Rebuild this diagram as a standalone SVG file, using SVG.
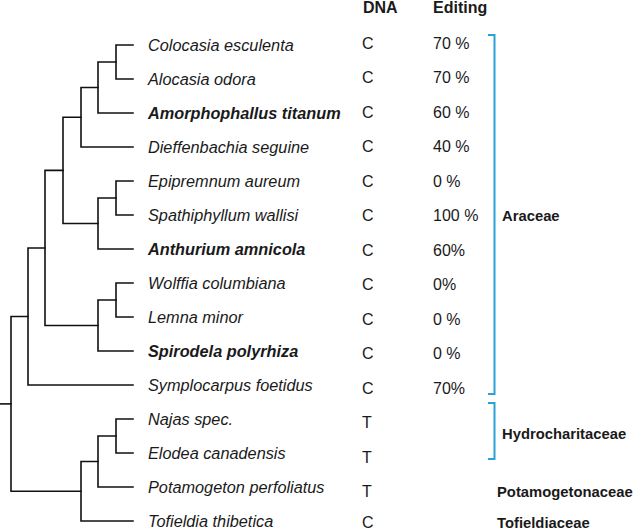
<svg xmlns="http://www.w3.org/2000/svg" width="633" height="532" viewBox="0 0 633 532">
<style>
  .sp { font-family: "Liberation Sans", Arial, sans-serif; font-size: 16.3px; font-style: italic; fill: #1a1a1a; }
  .spb { font-weight: bold; }
  .col { font-family: "Liberation Sans", Arial, sans-serif; font-size: 16px; fill: #1a1a1a; }
  .hdr { font-family: "Liberation Sans", Arial, sans-serif; font-size: 16px; font-weight: bold; fill: #1a1a1a; }
  .fam { font-family: "Liberation Sans", Arial, sans-serif; font-size: 14.8px; font-weight: bold; fill: #1a1a1a; }
  .tree { fill: none; stroke: #111; stroke-width: 1.6; stroke-linecap: square; stroke-linejoin: miter; }
  .br { fill: none; stroke: #2a9fd8; stroke-width: 2; }
</style>
<rect width="633" height="532" fill="#fff"/>

<g id="connectors">
  <path class="tree" d="M133 45 H116 V79 H133"/>
  <path class="tree" d="M116 62 H98 V113 H133"/>
  <path class="tree" d="M98 87.5 H81 V147 H133"/>
  <path class="tree" d="M133 181 H116 V215 H133"/>
  <path class="tree" d="M116 198 H98 V249 H133"/>
  <path class="tree" d="M81 117.2 H63 V223.5 H98"/>
  <path class="tree" d="M133 283 H116 V317 H133"/>
  <path class="tree" d="M116 300 H98 V351 H133"/>
  <path class="tree" d="M63 170.4 H45 V325.5 H98"/>
  <path class="tree" d="M45 248 H28 V385 H133"/>
  <path class="tree" d="M133 419 H116 V453 H133"/>
  <path class="tree" d="M116 436 H98 V487 H133"/>
  <path class="tree" d="M98 461.5 H81 V521 H133"/>
  <path class="tree" d="M28 316.5 H11 V491.2 H81"/>
  <path class="tree" d="M0 403.9 H11"/>
</g>

<g id="header">
  <text class="hdr" x="363" y="13">DNA</text>
  <text class="hdr" x="433" y="13">Editing</text>
</g>

<g id="t0"><text class="sp" x="148" y="51">Colocasia esculenta</text><text class="col" x="362" y="48.5">C</text><text class="col" x="433" y="48.5">70 %</text></g>
<g id="t1"><text class="sp" x="148" y="85">Alocasia odora</text><text class="col" x="362" y="83">C</text><text class="col" x="433" y="83">70 %</text></g>
<g id="t2"><text class="sp spb" x="148" y="119">Amorphophallus titanum</text><text class="col" x="362" y="117.5">C</text><text class="col" x="433" y="117.5">60 %</text></g>
<g id="t3"><text class="sp" x="148" y="153">Dieffenbachia seguine</text><text class="col" x="362" y="152">C</text><text class="col" x="433" y="152">40 %</text></g>
<g id="t4"><text class="sp" x="148" y="187">Epipremnum aureum</text><text class="col" x="362" y="186.5">C</text><text class="col" x="433" y="186.5">0 %</text></g>
<g id="t5"><text class="sp" x="148" y="221">Spathiphyllum wallisi</text><text class="col" x="362" y="221">C</text><text class="col" x="433" y="221">100 %</text></g>
<g id="t6"><text class="sp spb" x="148" y="255">Anthurium amnicola</text><text class="col" x="362" y="255.5">C</text><text class="col" x="433" y="255.5">60%</text></g>
<g id="t7"><text class="sp" x="148" y="289">Wolffia columbiana</text><text class="col" x="362" y="290">C</text><text class="col" x="433" y="290">0%</text></g>
<g id="t8"><text class="sp" x="148" y="323">Lemna minor</text><text class="col" x="362" y="324.5">C</text><text class="col" x="433" y="324.5">0 %</text></g>
<g id="t9"><text class="sp spb" x="148" y="357">Spirodela polyrhiza</text><text class="col" x="362" y="359">C</text><text class="col" x="433" y="359">0 %</text></g>
<g id="t10"><text class="sp" x="148" y="391">Symplocarpus foetidus</text><text class="col" x="362" y="393.5">C</text><text class="col" x="433" y="393.5">70%</text></g>
<g id="t11"><text class="sp" x="148" y="425">Najas spec.</text><text class="col" x="362" y="428">T</text></g>
<g id="t12"><text class="sp" x="148" y="459">Elodea canadensis</text><text class="col" x="362" y="462.5">T</text></g>
<g id="t13"><text class="sp" x="148" y="493">Potamogeton perfoliatus</text><text class="col" x="362" y="496.5">T</text></g>
<g id="t14"><text class="sp" x="148" y="527">Tofieldia thibetica</text><text class="col" x="362" y="528">C</text></g>

<g id="araceae">
  <path class="br" d="M488 35 H494.5 V394 H488"/>
  <text class="fam" x="502" y="221">Araceae</text>
</g>
<g id="hydrocharitaceae">
  <path class="br" d="M488 403 H494.5 V459 H488"/>
  <text class="fam" x="502" y="439">Hydrocharitaceae</text>
</g>
<g id="potamogetonaceae">
  <text class="fam" x="497" y="497">Potamogetonaceae</text>
</g>
<g id="tofieldiaceae">
  <text class="fam" x="497" y="528">Tofieldiaceae</text>
</g>
</svg>
